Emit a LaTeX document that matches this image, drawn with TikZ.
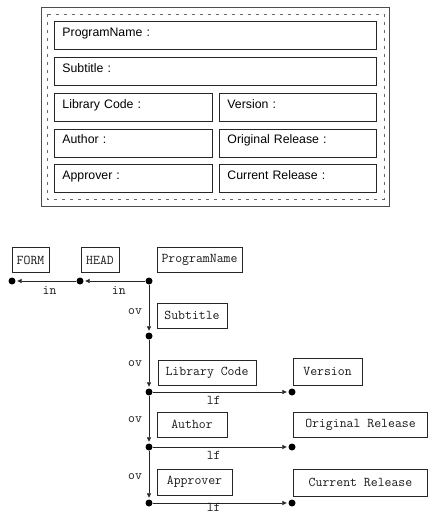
\documentclass[tikz,border=0pt]{standalone}
\usepackage{fontspec}
\setmainfont{Liberation Sans}
\usetikzlibrary{arrows.meta}
\begin{document}
\begin{tikzpicture}[x=1pt,y=-1pt,
  fieldbox/.style={draw=black!85, line width=0.9pt, anchor=north west,
    inner xsep=8pt, inner ysep=3pt, text height=12pt, text depth=10pt,
    align=left, font=\fontsize{12.3}{14}\selectfont},
  mbox/.style={draw=black!85, line width=0.7pt, inner sep=0pt, text=black!90,
    minimum height=25pt, font=\ttfamily\fontsize{13.4}{15}\selectfont},
  dot/.style={circle, fill=black, inner sep=0pt, minimum size=7pt},
  conn/.style={draw=black!85, line width=0.7pt, -{Triangle[length=4.5pt,width=4pt]}, shorten >=1.5pt},
  lab/.style={font=\ttfamily\fontsize{13.4}{15}\selectfont, inner sep=0pt, text=black!90}
]
\useasboundingbox (0,0) rectangle (428,514);
% ---------- form layout ----------
\draw[black!70, line width=0.8pt] (41,7) rectangle (389,206);
\draw[black!60, line width=0.8pt, dash pattern=on 3pt off 5pt] (47,14) rectangle (384,199);
\node[fieldbox, text width=306pt] (fpn) at (54,21) {ProgramName :};
\node[fieldbox, text width=306pt] (fst) at (54,57) {Subtitle :};
\node[fieldbox, text width=142pt] (flc) at (54,93) {Library Code :};
\node[fieldbox, text width=141pt] (fvr) at (219,93) {Version :};
\node[fieldbox, text width=142pt] (fau) at (54,128.5) {Author :};
\node[fieldbox, text width=141pt] (for) at (219,128.5) {Original Release :};
\node[fieldbox, text width=142pt] (fap) at (54,164) {Approver :};
\node[fieldbox, text width=141pt] (fcr) at (219,164) {Current Release :};
% ---------- tree ----------
\node[mbox, minimum width=37pt] (form) at (30.5,260) {FORM};
\node[mbox, minimum width=38pt] (head) at (100,260) {HEAD};
\node[mbox, minimum width=85pt] (pname) at (199.5,259.5) {ProgramName};
\node[mbox, minimum width=70pt] (subt) at (192,315.5) {Subtitle};
\node[mbox, minimum width=98pt] (lcode) at (207,372.5) {Library Code};
\node[mbox, minimum width=69pt, minimum height=27pt] (vers) at (327.5,371.5) {Version};
\node[mbox, minimum width=70pt] (auth) at (192,424.5) {Author};
\node[mbox, minimum width=134pt] (orel) at (360.5,424.5) {Original Release};
\node[mbox, minimum width=75pt, minimum height=26pt] (appr) at (194.5,482) {Approver};
\node[mbox, minimum width=134pt, minimum height=27pt] (crel) at (360.5,482.5) {Current Release};

\node[dot] (df) at (12,281) {};
\node[dot] (dh) at (80,281) {};
\node[dot] (dp) at (149,281) {};
\node[dot] (ds) at (149,336) {};
\node[dot] (dl) at (149,392) {};
\node[dot] (dv) at (292,392) {};
\node[dot] (da) at (149,447) {};
\node[dot] (do) at (292,447) {};
\node[dot] (dq) at (149,503) {};
\node[dot] (dc) at (292,503) {};

\draw[conn] (dp) -- node[lab, pos=.43, yshift=-9pt] (in2) {in} (dh);
\draw[conn] (dh) -- node[lab, pos=.44, yshift=-9pt] (in1) {in} (df);
\draw[conn] (dp) -- node[lab, pos=.56, xshift=-14pt] (ov1) {ov} (ds);
\draw[conn] (ds) -- node[lab, pos=.50, xshift=-14pt] (ov2) {ov} (dl);
\draw[conn] (dl) -- node[lab, pos=.51, xshift=-14pt] (ov3) {ov} (da);
\draw[conn] (da) -- node[lab, pos=.54, xshift=-14pt] (ov4) {ov} (dq);
\draw[conn] (dl) -- node[lab, pos=.45, yshift=-8pt] (lf1) {lf} (dv);
\draw[conn] (da) -- node[lab, pos=.45, yshift=-8pt] (lf2) {lf} (do);
\draw[conn] (dq) -- node[lab, pos=.45, yshift=-4.5pt] (lf3) {lf} (dc);
\end{tikzpicture}
\end{document}
